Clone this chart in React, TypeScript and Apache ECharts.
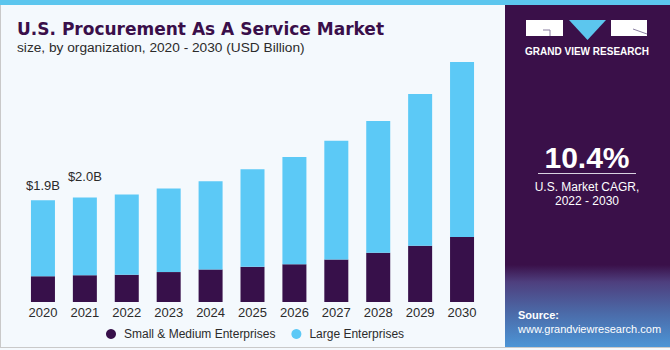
import React, { useEffect, useRef } from "react";
import * as echarts from "echarts";

const years = ["2020", "2021", "2022", "2023", "2024", "2025", "2026", "2027", "2028", "2029", "2030"];
const smallMedium = [0.49, 0.51, 0.52, 0.57, 0.62, 0.67, 0.72, 0.81, 0.94, 1.07, 1.24];
const large = [1.45, 1.48, 1.53, 1.59, 1.68, 1.86, 2.04, 2.26, 2.51, 2.89, 3.33];
const valueLabels: Record<number, { text: string; distance: number }> = {
  0: { text: "$1.9B", distance: 8 },
  1: { text: "$2.0B", distance: 15 },
};

const DARK = "#37104A";
const BLUE = "#5CC9F6";
const FONT = "'Liberation Sans', Arial, sans-serif";

export default function App() {
  const ref = useRef<HTMLDivElement>(null);
  useEffect(() => {
    document.body.style.margin = "0";
    const chart = echarts.init(ref.current!, null, { renderer: "svg" });
    const largeData = large.map((v, i) =>
      valueLabels[i]
        ? {
            value: v,
            label: {
              show: true,
              position: "top",
              distance: valueLabels[i].distance,
              formatter: valueLabels[i].text,
              color: "#2b2b2b",
              fontSize: 13,
              fontFamily: FONT,
            },
          }
        : v
    );
    chart.setOption({
      animation: false,
      backgroundColor: "#F4F9FD",
      grid: { left: 22, right: 187, top: 39.5, bottom: 48 },
      xAxis: {
        type: "category",
        data: years,
        axisLine: { show: false },
        axisTick: { show: false },
        axisLabel: { color: "#2b2b2b", fontSize: 13, fontFamily: FONT, margin: 4 },
      },
      yAxis: { type: "value", min: 0, max: 5, show: false, splitLine: { show: false } },
      legend: {
        left: 101,
        top: 323,
        itemWidth: 14,
        itemHeight: 10,
        itemGap: 16,
        icon: "circle",
        textStyle: { color: "#2b2b2b", fontSize: 12, fontFamily: FONT, padding: [0, 0, 0, 1] },
        data: ["Small & Medium Enterprises", "Large Enterprises"],
      },
      series: [
        {
          name: "Small & Medium Enterprises",
          type: "bar",
          stack: "total",
          barWidth: 24,
          data: smallMedium,
          itemStyle: { color: DARK },
        },
        {
          name: "Large Enterprises",
          type: "bar",
          stack: "total",
          barWidth: 24,
          data: largeData,
          itemStyle: { color: BLUE },
        },
      ],
      graphic: [
        { type: "rect", shape: { x: 0, y: 0, width: 670, height: 5 }, style: { fill: "#5CC6EE" }, z: 10 },
        { type: "line", shape: { x1: 0.5, y1: 5, x2: 0.5, y2: 347 }, style: { stroke: "#c9c9c9", lineWidth: 1 }, z: 10 },
        { type: "line", shape: { x1: 0, y1: 347.5, x2: 670, y2: 347.5 }, style: { stroke: "#c9c9c9", lineWidth: 1 }, z: 10 },
        {
          type: "rect",
          shape: { x: 505, y: 5, width: 165, height: 342 },
          style: {
            fill: {
              type: "linear",
              x: 0,
              y: 0,
              x2: 0,
              y2: 1,
              colorStops: [
                { offset: 0, color: "#3A1049" },
                { offset: 0.76, color: "#3A1049" },
                { offset: 0.81, color: "#4E3F7E" },
                { offset: 0.9, color: "#4B6AA8" },
                { offset: 1, color: "#4C95D6" },
              ],
            },
          },
          z: 5,
        },
        // logo
        { type: "rect", shape: { x: 526, y: 20, width: 37, height: 16 }, style: { fill: "#ffffff" }, z: 11 },
        { type: "polyline", shape: { points: [[543, 30], [550, 30], [550, 36]] }, style: { stroke: "#8a7fa0", lineWidth: 1, fill: null }, z: 12 },
        { type: "polygon", shape: { points: [[569, 20], [606, 20], [587.5, 40]] }, style: { fill: "#5CC6EE" }, z: 11 },
        { type: "rect", shape: { x: 611, y: 20, width: 36, height: 16 }, style: { fill: "#ffffff" }, z: 11 },
        { type: "line", shape: { x1: 633, y1: 29, x2: 647, y2: 34 }, style: { stroke: "#8a7fa0", lineWidth: 1 }, z: 12 },
        {
          type: "text",
          x: 587,
          y: 51,
          style: { text: "GRAND VIEW RESEARCH", fill: "#ffffff", font: `bold 10px ${FONT}`, textAlign: "center", textVerticalAlign: "middle" },
          z: 11,
        },
        {
          type: "text",
          x: 587,
          y: 157,
          style: { text: "10.4%", fill: "#ffffff", font: `bold 30px ${FONT}`, textAlign: "center", textVerticalAlign: "middle" },
          z: 11,
        },
        { type: "line", shape: { x1: 538, y1: 173.5, x2: 636, y2: 173.5 }, style: { stroke: "#d8d2e0", lineWidth: 1 }, z: 11 },
        {
          type: "text",
          x: 587,
          y: 187,
          style: { text: "U.S. Market CAGR,", fill: "#ffffff", font: `12px ${FONT}`, textAlign: "center", textVerticalAlign: "middle" },
          z: 11,
        },
        {
          type: "text",
          x: 587,
          y: 201,
          style: { text: "2022 - 2030", fill: "#ffffff", font: `12px ${FONT}`, textAlign: "center", textVerticalAlign: "middle" },
          z: 11,
        },
        {
          type: "text",
          x: 518,
          y: 315,
          style: { text: "Source:", fill: "#ffffff", font: `bold 11px ${FONT}`, textAlign: "left", textVerticalAlign: "middle" },
          z: 11,
        },
        {
          type: "text",
          x: 518,
          y: 329,
          style: { text: "www.grandviewresearch.com", fill: "#ffffff", font: `11px ${FONT}`, textAlign: "left", textVerticalAlign: "middle" },
          z: 11,
        },
        // titles
        {
          type: "text",
          x: 17,
          y: 29,
          style: { text: "U.S. Procurement As A Service Market", fill: "#3A0F4A", font: `bold 17px 'DejaVu Sans', sans-serif`, textAlign: "left", textVerticalAlign: "middle" },
          z: 11,
        },
        {
          type: "text",
          x: 17,
          y: 47,
          style: { text: "size, by organization, 2020 - 2030 (USD Billion)", fill: "#2b2b2b", font: `13.7px ${FONT}`, textAlign: "left", textVerticalAlign: "middle" },
          z: 11,
        },
      ],
    });
    return () => chart.dispose();
  }, []);
  return <div ref={ref} style={{ position: "absolute", left: 0, top: 0, width: 670, height: 350 }} />;
}
